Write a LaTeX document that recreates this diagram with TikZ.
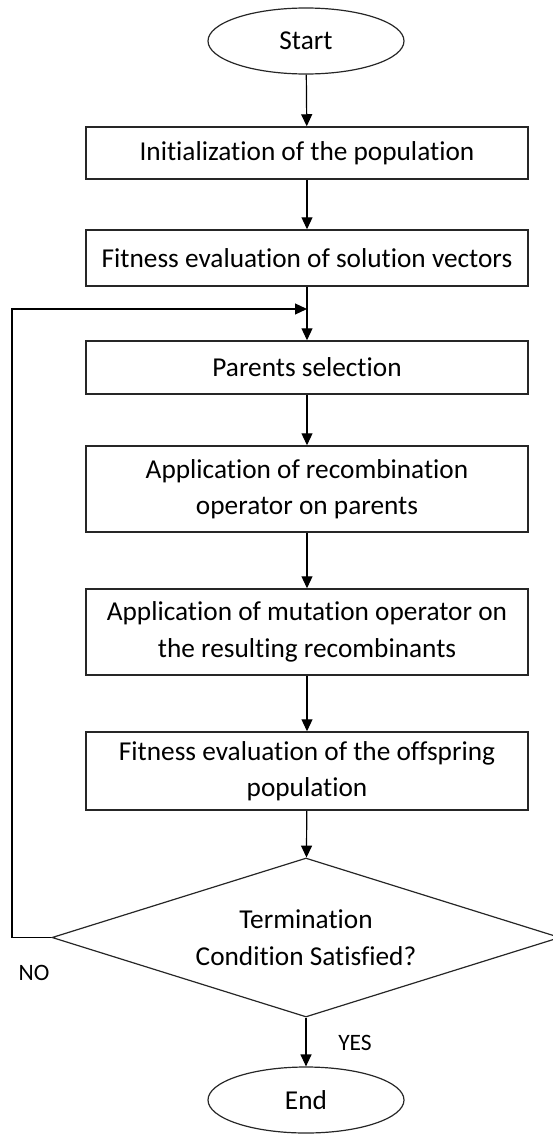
\documentclass[tikz,border=0pt]{standalone}
\usepackage{fontspec}
\setmainfont[Ligatures=NoCommon]{Carlito}
\usetikzlibrary{shapes.geometric,arrows.meta}
\begin{document}
\begin{tikzpicture}[x=1pt,y=-1pt,
  every node/.style={font=\fontsize{27.3}{36.5}\selectfont, text=black},
  terminal/.style={ellipse, draw=black!85, line width=1.2pt, minimum width=196pt, minimum height=66pt, inner sep=0pt},
  process/.style={rectangle, draw=black!85, line width=1.5pt, minimum width=442pt, align=center, inner sep=0pt},
  decision/.style={diamond, draw=black!85, line width=1.2pt, shape aspect=3.2, minimum width=508pt, minimum height=159pt, align=center, inner sep=0pt},
  flow/.style={draw=black, line width=1.2pt, -{Triangle[length=12pt,width=11pt]}},
  tag/.style={font=\fontsize{23.5}{27}\selectfont}
]
\useasboundingbox (0,0) rectangle (553,1135);

\node[terminal] (start) at (306,41) {Start};
\node[process, minimum height=52pt] (init) at (307,153) {Initialization of the population};
\node[process, minimum height=56pt] (feval) at (307,258) {Fitness evaluation of solution vectors};
\node[process, minimum height=53pt] (sel) at (307,367.5) {Parents selection};
\node[process, minimum height=86pt] (recomb) at (307,489) {Application of recombination\\operator on parents};
\node[process, minimum height=86pt] (mut) at (307,632) {Application of mutation operator on\\the resulting recombinants};
\node[process, minimum height=78pt] (offs) at (307,771) {Fitness evaluation of the offspring\\population};
\node[decision] (term) at (306,937.5) {Termination\\Condition Satisfied?};
\node[terminal] (stop) at (306,1100) {End};

\node[tag] at (34,973) {NO};
\node[tag] at (355,1043) {YES};

\coordinate (join) at (307,309);
\coordinate (loopx) at (12,937.5);

\draw[flow] (start) -- (init);
\draw[flow] (init) -- (feval);
\draw[flow] (feval) -- (sel);
\draw[flow] (sel) -- (recomb);
\draw[flow] (recomb) -- (mut);
\draw[flow] (mut) -- (offs);
\draw[flow] (offs) -- (term);
\draw[flow] (term) -- (stop);
\draw[flow] (term.west) -- (loopx) |- (join);
\end{tikzpicture}
\end{document}
